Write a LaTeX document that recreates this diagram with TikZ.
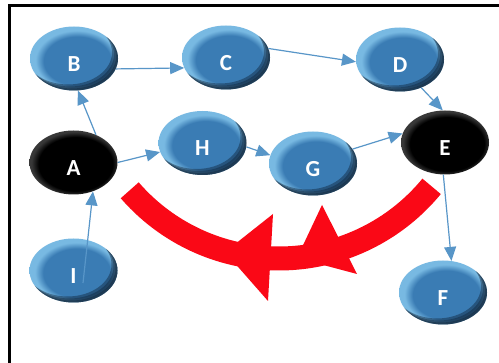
\documentclass[tikz,border=0pt]{standalone}
\usepackage{fontspec}
\newfontfamily\lblfont{Carlito}
\usetikzlibrary{shapes.geometric,arrows.meta}
\definecolor{nbmid}{RGB}{58,124,180}
\definecolor{nblight}{RGB}{120,185,226}
\definecolor{nbdark}{RGB}{10,26,44}
\definecolor{linkblue}{RGB}{88,150,200}
\definecolor{arcred}{RGB}{250,8,22}
\pgfdeclareradialshading{nodeshade}{\pgfpoint{3bp}{-3bp}}{color(0bp)=(nbmid); color(19bp)=(nbmid); color(23.5bp)=(nblight); color(25bp)=(nblight); color(50bp)=(nblight)}
\pgfdeclareradialshading{blackshade}{\pgfpoint{2bp}{-2bp}}{color(0bp)=(black); color(21bp)=(black); color(25bp)=(black!78); color(50bp)=(black!78)}
\newcommand\rimshade{%
  \foreach \s/\o in {2/0.35,4/0.35,6/0.4}{%
    \fill[nbdark, opacity=\o, even odd rule]
      (path picture bounding box.center) ellipse [x radius=60pt, y radius=45pt]
      ([shift={(-\s pt,\s pt)}]path picture bounding box.center) ellipse [x radius=44pt, y radius=32pt];
  }%
}
\tikzset{
  nodebase/.style={ellipse, minimum width=88pt, minimum height=64pt, inner sep=0pt,
    text=white, font=\lblfont\bfseries\fontsize{23}{23}\selectfont, text height=26pt, text depth=0pt},
  bluenode/.style={nodebase, shading=nodeshade, path picture={\rimshade}},
  blacknode/.style={nodebase, shading=blackshade},
  link/.style={draw=linkblue, line width=1.2pt, -{Triangle[length=14pt,width=12pt]}},
  frameline/.style={draw=black, line width=2.5pt},
}
\begin{document}
\begin{tikzpicture}[x=1pt,y=-1pt]
\useasboundingbox (0,0) rectangle (499,363);
\fill[white] (0,0) rectangle (499,363);
\begin{scope}
  \clip (0,0) rectangle (499,363);
  \draw[frameline] (9.3,380) -- (9.3,5.3) -- (510,5.3);
\end{scope}

% red curved band with two heads
\draw[arcred, line width=24pt] plot[domain=39.4:139.1, samples=80] ({279+197.5*cos(\x)},{61+197.5*sin(\x)});
\fill[arcred] (322,205) -- (357,274) -- (297,258) -- cycle;
\fill[arcred] (273,214) -- (268,301) -- (225,252) -- cycle;

% nodes
\node[bluenode]  (B) at (74,58.5)    {B};
\node[bluenode]  (C) at (226,57.5)   {C};
\node[bluenode]  (D) at (400,59.5)   {D};
\node[bluenode]  (H) at (202.5,143)  {H};
\node[bluenode]  (G) at (313,163.5)  {G};
\node[blacknode] (E) at (445,142.5)  {E};
\node[blacknode] (A) at (73.5,162.5) {A};
\node[bluenode]  (I) at (73.5,270.5) {I};
\node[bluenode]  (F) at (443,292.5)  {F};

% connectors
\draw[link] (A.51) -- (B.-83);
\draw[link] (B.-14) -- (C.194);
\draw[link] (C.12) -- (D.183);
\draw[link] (D.-53) -- (E.94);
\draw[link] (A.0) -- (H.192);
\draw[link] (H.-5) -- (G.169);
\draw[link] (G.20) -- (E.168);
\draw[link] (E.-93) -- (F.75);
\draw[link] ([shift={(9.5pt,-12.5pt)}]I.center) -- (A.-56);
\end{tikzpicture}
\end{document}
